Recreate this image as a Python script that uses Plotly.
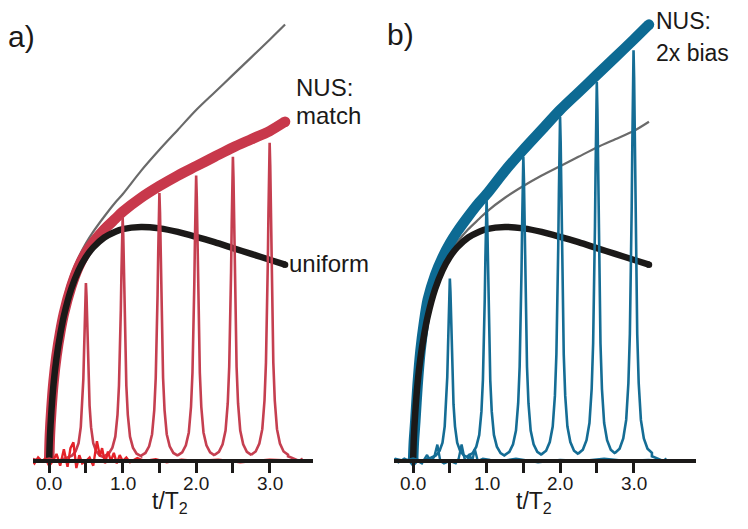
import plotly.graph_objects as go

# ---------------- data ----------------
t_curve = [0, 0.01, 0.03, 0.06, 0.1, 0.15, 0.2, 0.3, 0.4, 0.5, 0.6, 0.75, 0.9,
           1.0, 1.25, 1.5, 1.75, 2.0, 2.25, 2.5, 2.75, 3.0, 3.21]
uniform = [0, 0.10, 0.21, 0.33, 0.44, 0.54, 0.62, 0.735, 0.815, 0.872, 0.913, 0.955, 0.980,
           0.991, 1.0, 0.994, 0.979, 0.958, 0.935, 0.910, 0.885, 0.860, 0.839]
nus_match = [0, 0.11, 0.22, 0.34, 0.45, 0.55, 0.63, 0.745, 0.83, 0.89, 0.935, 0.99, 1.035,
             1.065, 1.125, 1.175, 1.22, 1.26, 1.30, 1.34, 1.375, 1.41, 1.45]
nus_bias = [0, 0.08, 0.17, 0.32, 0.47, 0.595, 0.69, 0.795, 0.87, 0.93, 0.98, 1.045, 1.105,
            1.14, 1.24, 1.33, 1.415, 1.50, 1.575, 1.65, 1.725, 1.80, 1.865]

peak_t = [0.5, 1.0, 1.5, 2.0, 2.5, 3.0]
peak_h_a = [0.76, 1.04, 1.145, 1.22, 1.30, 1.36]
peak_h_b = [0.78, 1.115, 1.30, 1.47, 1.62, 1.755]

# line shape of one spectral peak (offset in t/T2, fraction of the peak height)
shape_dx = [-0.25, -0.19, -0.14, -0.10, -0.07, -0.05, -0.035, -0.025, -0.016, -0.008, 0,
            0.008, 0.016, 0.025, 0.035, 0.05, 0.07, 0.10, 0.14, 0.19, 0.25]
shape_rel = [0.02, 0.03, 0.055, 0.10, 0.19, 0.31, 0.46, 0.62, 0.78, 0.93, 1.0,
             0.93, 0.78, 0.62, 0.46, 0.31, 0.19, 0.10, 0.055, 0.03, 0.02]

lead_t = [-0.25, -0.12, 0.0, 0.12, 0.25]
lead_y = [0.01, 0.0, 0.01, 0.0, 0.015]
tail_t = [3.25, 3.33, 3.4, 3.45]
tail_y = [0.02, 0.01, 0.0, 0.01]

noise_a_t = [-0.25, -0.2, -0.15, -0.1, -0.05, 0.0, 0.05, 0.1, 0.15, 0.2, 0.25, 0.29, 0.33, 0.37,
             0.41, 0.45, 0.5, 0.55, 0.6, 0.65, 0.69, 0.72, 0.76, 0.8, 0.84, 0.88, 0.92, 0.96,
             1.0, 1.05, 1.1, 1.2, 1.3, 1.45, 1.6, 1.8, 2.0, 2.3, 2.6, 3.0, 3.45]
noise_a_y = [0.01, -0.01, 0.015, 0.0, 0.01, -0.02, 0.0, 0.03, -0.02, 0.05, -0.025, 0.055, 0.08, -0.03,
             0.025, -0.01, 0.0, 0.015, -0.02, 0.085, 0.02, 0.055, -0.01, 0.04, 0.0, 0.035, -0.01, 0.025,
             0.0, 0.015, -0.005, 0.012, 0.0, 0.008, -0.005, 0.006, 0.0, 0.006, -0.005, 0.006, 0.0]

noise_b_t = [-0.26, -0.2, -0.12, -0.05, 0.0, 0.06, 0.12, 0.19, 0.24, 0.29, 0.33, 0.37, 0.42,
             0.5, 0.58, 0.62, 0.66, 0.7, 0.74, 0.77, 0.8, 0.84, 0.88, 0.95, 1.05, 1.2,
             1.4, 1.7, 2.0, 2.3, 2.6, 2.9, 3.2, 3.48]
noise_b_y = [0.01, -0.005, 0.01, 0.0, -0.02, 0.0, -0.01, 0.026, -0.005, 0.02, 0.07, 0.0, -0.01,
             0.0, -0.01, 0.01, 0.07, 0.01, 0.0, 0.03, -0.005, 0.05, 0.0, 0.01, 0.005, 0.0,
             0.01, -0.005, 0.005, 0.0, 0.01, 0.0, 0.005, 0.0]

tick_vals = [0, 0.5, 1.0, 1.5, 2.0, 2.5, 3.0]
tick_text = ["0.0", "", "1.0", "", "2.0", "", "3.0"]

# ---------------- styling ----------------
OFF = 8                      # page body margin of the browser
W, H = 748 - OFF, 529 - OFF  # figure fits the window exactly
RED = "#c8384b"
RED_SPEC = "#c53f50"
RED_NOISE = "#e42229"
BLUE = "#0d6a93"
BLUE_SPEC = "#156d95"
GRAY = "#6a6a6a"
BLACK = "#1b1918"
FONT = "Liberation Sans, Arial, Helvetica, sans-serif"


def fx(px):
    return (px - OFF) / W


def fy(py):
    return 1 - (py - OFF) / H


def spectrum(heights):
    xs, ys = list(lead_t), list(lead_y)
    for c, h in zip(peak_t, heights):
        for dx, r in zip(shape_dx, shape_rel):
            xs.append(c + dx)
            ys.append(h * r)
    xs += tail_t
    ys += tail_y
    return xs, ys


fig = go.Figure()


def panel(xa, ya, gray_y, band_y, band_col, spec_h, spec_col, noise_t, noise_y, noise_col):
    fig.add_trace(go.Scatter(x=t_curve, y=gray_y, mode="lines", xaxis=xa, yaxis=ya,
                             line=dict(color=GRAY, width=2.2, shape="spline", smoothing=0.8),
                             hoverinfo="skip"))
    fig.add_trace(go.Scatter(x=t_curve, y=band_y, mode="lines", xaxis=xa, yaxis=ya,
                             line=dict(color=band_col, width=10.5, shape="spline", smoothing=0.8),
                             hoverinfo="skip"))
    fig.add_trace(go.Scatter(x=[t_curve[-1]], y=[band_y[-1]], mode="markers", xaxis=xa, yaxis=ya,
                             marker=dict(color=band_col, size=10.5, line=dict(width=0)),
                             hoverinfo="skip"))
    fig.add_trace(go.Scatter(x=t_curve, y=uniform, mode="lines", xaxis=xa, yaxis=ya,
                             line=dict(color=BLACK, width=6.5, shape="spline", smoothing=0.8),
                             hoverinfo="skip"))
    fig.add_trace(go.Scatter(x=[t_curve[-1]], y=[uniform[-1]], mode="markers", xaxis=xa, yaxis=ya,
                             marker=dict(color=BLACK, size=6.5, line=dict(width=0)),
                             hoverinfo="skip"))
    sx, sy = spectrum(spec_h)
    fig.add_trace(go.Scatter(x=sx, y=sy, mode="lines", xaxis=xa, yaxis=ya,
                             line=dict(color=spec_col, width=2.6), hoverinfo="skip"))
    fig.add_trace(go.Scatter(x=noise_t, y=noise_y, mode="lines", xaxis=xa, yaxis=ya,
                             line=dict(color=noise_col, width=2.4), hoverinfo="skip"))


panel("x", "y", nus_bias, nus_match, RED, peak_h_a, RED_SPEC, noise_a_t, noise_a_y, RED_NOISE)
panel("x2", "y2", nus_match, nus_bias, BLUE, peak_h_b, BLUE_SPEC, noise_b_t, noise_b_y, BLUE_SPEC)

base_px = 461.0 - OFF
unit_px = 234.0
y_range = [-(H - base_px) / unit_px, base_px / unit_px]

xaxis_common = dict(
    tickmode="array", tickvals=tick_vals, showticklabels=False,
    ticks="outside", ticklen=10, tickwidth=3, tickcolor=BLACK,
    showline=True, linecolor=BLACK, linewidth=4,
    showgrid=False, zeroline=False, anchor="free", position=(H - base_px) / H,
)
yaxis_common = dict(visible=False, range=y_range, domain=[0, 1], fixedrange=True)

fig.update_layout(
    width=W, height=H, margin=dict(l=0, r=0, t=0, b=0),
    paper_bgcolor="white", plot_bgcolor="rgba(0,0,0,0)", showlegend=False,
    xaxis=dict(domain=[fx(33), fx(313)], range=[-0.22, 3.59], **xaxis_common),
    xaxis2=dict(domain=[fx(394), fx(696)], range=[-0.26, 3.85], **xaxis_common),
    yaxis=dict(anchor="x", **yaxis_common),
    yaxis2=dict(anchor="x2", **yaxis_common),
)


def label(xpx, ypx, text, size, xanchor="left"):
    fig.add_annotation(x=fx(xpx), y=fy(ypx), xref="paper", yref="paper", text=text,
                       showarrow=False, xanchor=xanchor, yanchor="middle", borderpad=0,
                       font=dict(family=FONT, size=size, color=BLACK))


# tick labels placed under their ticks
for xr in ("x", "x2"):
    for v, txt in zip(tick_vals, tick_text):
        if txt:
            fig.add_annotation(x=v, y=fy(483), xref=xr, yref="paper", text=txt,
                               showarrow=False, xanchor="center", yanchor="middle",
                               font=dict(family=FONT, size=19, color=BLACK))

label(7, 36, "a)", 30)
label(386, 34, "b)", 30)
label(295, 87, "NUS:", 24)
label(295, 116, "match", 24)
label(288, 263, "uniform", 24)
label(655, 21, "NUS:", 23)
label(655, 53, "2x bias", 23)
label(170, 502, "t/T<sub>2</sub>", 23, xanchor="center")
label(534, 502, "t/T<sub>2</sub>", 23, xanchor="center")

fig.write_html("out.html")
